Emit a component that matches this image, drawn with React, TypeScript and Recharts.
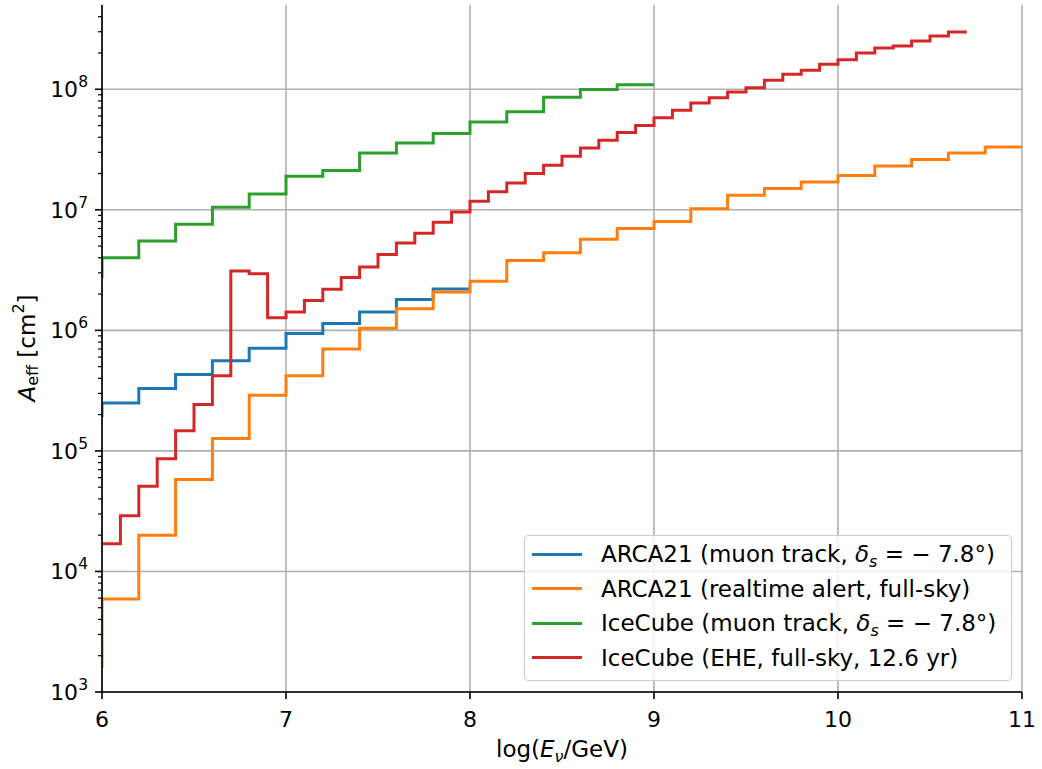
import React from 'react';
import { LineChart, Line, XAxis, YAxis, CartesianGrid, Legend } from 'recharts';

const FONT = "'DejaVu Sans', 'Liberation Sans', sans-serif";

// Bin upper edges (first entry = start of the curve); values are plotted as "pre" steps
const arcaMuonE = [6.0, 6.2, 6.4, 6.6, 6.8, 7.0, 7.2, 7.4, 7.6, 7.8, 8.0];
const arcaMuonA = [1.9e5, 2.5e5, 3.3e5, 4.3e5, 5.6e5, 7.1e5, 9.4e5, 1.14e6, 1.42e6, 1.8e6, 2.2e6];

const arcaAlertE = [6.0, 6.2, 6.4, 6.6, 6.8, 7.0, 7.2, 7.4, 7.6, 7.8, 8.0, 8.2, 8.4, 8.6, 8.8, 9.0, 9.2, 9.4, 9.6, 9.8, 10.0, 10.2, 10.4, 10.6, 10.8, 11.0];
const arcaAlertA = [1.6e3, 5.9e3, 2.0e4, 5.8e4, 1.27e5, 2.9e5, 4.2e5, 7.0e5, 1.04e6, 1.51e6, 2.08e6, 2.55e6, 3.8e6, 4.4e6, 5.7e6, 7.0e6, 7.98e6, 1.02e7, 1.32e7, 1.5e7, 1.7e7, 1.93e7, 2.31e7, 2.61e7, 2.96e7, 3.32e7];

const iceMuonE = [6.0, 6.2, 6.4, 6.6, 6.8, 7.0, 7.2, 7.4, 7.6, 7.8, 8.0, 8.2, 8.4, 8.6, 8.8, 9.0];
const iceMuonA = [2.7e6, 4.0e6, 5.5e6, 7.6e6, 1.05e7, 1.35e7, 1.9e7, 2.12e7, 2.96e7, 3.58e7, 4.3e7, 5.35e7, 6.5e7, 8.6e7, 9.96e7, 1.09e8];

const iceEheE = [6.0, 6.1, 6.2, 6.3, 6.4, 6.5, 6.6, 6.7, 6.8, 6.9, 7.0, 7.1, 7.2, 7.3, 7.4, 7.5, 7.6, 7.7, 7.8, 7.9, 8.0, 8.1, 8.2, 8.3, 8.4, 8.5, 8.6, 8.7, 8.8, 8.9, 9.0, 9.1, 9.2, 9.3, 9.4, 9.5, 9.6, 9.7, 9.8, 9.9, 10.0, 10.1, 10.2, 10.3, 10.4, 10.5, 10.6, 10.7];
const iceEheA = [1.7e4, 1.7e4, 2.9e4, 5.1e4, 8.6e4, 1.47e5, 2.43e5, 4.2e5, 3.1e6, 2.95e6, 1.27e6, 1.42e6, 1.77e6, 2.19e6, 2.74e6, 3.35e6, 4.25e6, 5.3e6, 6.4e6, 7.9e6, 9.6e6, 1.18e7, 1.41e7, 1.67e7, 2.0e7, 2.34e7, 2.78e7, 3.26e7, 3.78e7, 4.37e7, 5.0e7, 5.8e7, 6.7e7, 7.7e7, 8.5e7, 9.5e7, 1.03e8, 1.19e8, 1.33e8, 1.44e8, 1.61e8, 1.76e8, 2.0e8, 2.2e8, 2.29e8, 2.51e8, 2.77e8, 2.98e8];

const xTicks = [6, 7, 8, 9, 10, 11];
const yMajorTicks = [1e3, 1e4, 1e5, 1e6, 1e7, 1e8];
const yMinorTicks = [
  2e3, 3e3, 4e3, 5e3, 6e3, 7e3, 8e3, 9e3,
  2e4, 3e4, 4e4, 5e4, 6e4, 7e4, 8e4, 9e4,
  2e5, 3e5, 4e5, 5e5, 6e5, 7e5, 8e5, 9e5,
  2e6, 3e6, 4e6, 5e6, 6e6, 7e6, 8e6, 9e6,
  2e7, 3e7, 4e7, 5e7, 6e7, 7e7, 8e7, 9e7,
  2e8, 3e8, 4e8,
];
const yDomain = [1e3, 5e8];

const toPoints = (xs: number[], ys: number[]) => xs.map((x, i) => ({ x, y: ys[i] }));

const series = [
  { key: 'arcaMuon', color: '#1f77b4', data: toPoints(arcaMuonE, arcaMuonA) },
  { key: 'arcaAlert', color: '#ff7f0e', data: toPoints(arcaAlertE, arcaAlertA) },
  { key: 'iceMuon', color: '#2ca02c', data: toPoints(iceMuonE, iceMuonA) },
  { key: 'iceEhe', color: '#d62728', data: toPoints(iceEheE, iceEheA) },
];

const Delta = () => (
  <>
    <i>δ</i>
    <sub style={{ fontSize: 16, verticalAlign: '-5px', lineHeight: 0 }}><i>s</i></sub>
  </>
);

const legendLabels: React.ReactNode[] = [
  <>ARCA21 (muon track, <Delta /> = − 7.8°)</>,
  <>ARCA21 (realtime alert, full-sky)</>,
  <>IceCube (muon track, <Delta /> = − 7.8°)</>,
  <>IceCube (EHE, full-sky, 12.6 yr)</>,
];

const LegendBox = () => (
  <div
    style={{
      boxSizing: 'border-box',
      width: 488,
      height: 146,
      background: 'rgba(255,255,255,0.8)',
      border: '1px solid #cccccc',
      borderRadius: 4,
      fontFamily: FONT,
      fontSize: 23,
      color: '#000',
      paddingTop: 1,
    }}
  >
    {series.map((s, i) => (
      <div key={s.key} style={{ display: 'flex', alignItems: 'center', height: 34.5, whiteSpace: 'nowrap' }}>
        <div style={{ width: 50, height: 3, background: s.color, marginLeft: 7, marginRight: 19, flexShrink: 0 }} />
        <span style={{ lineHeight: '34px' }}>{legendLabels[i]}</span>
      </div>
    ))}
  </div>
);

const YTick = (props: any) => {
  const { x, y, payload } = props;
  const v = payload.value as number;
  const lg = Math.log10(v);
  const e = Math.round(lg);
  const major = Math.abs(lg - e) < 1e-6;
  return (
    <g>
      <line x1={x - (major ? 7 : 4)} x2={x} y1={y} y2={y} stroke="#000" strokeWidth={major ? 1.6 : 1.2} />
      {major && (
        <text x={x - 14} y={y + 8} textAnchor="end" fontFamily={FONT} fontSize={22} fill="#000">
          <tspan>10</tspan>
          <tspan dy={-10} fontSize={15.5}>{e}</tspan>
        </text>
      )}
    </g>
  );
};

const YLabel = () => (
  <text x={27} y={348} transform="rotate(-90, 27, 348)" textAnchor="middle" dominantBaseline="central" fontFamily={FONT} fontSize={23} fill="#000">
    <tspan fontStyle="italic">A</tspan>
    <tspan dy={5} fontSize={16}>eff</tspan>
    <tspan dy={-5}> [cm</tspan>
    <tspan dy={-9} fontSize={16}>2</tspan>
    <tspan dy={9}>]</tspan>
  </text>
);

const XLabel = () => (
  <text x={562} y={757} textAnchor="middle" fontFamily={FONT} fontSize={23} fill="#000">
    <tspan>log(</tspan>
    <tspan fontStyle="italic">E</tspan>
    <tspan dy={5} fontSize={16} fontStyle="italic">ν</tspan>
    <tspan dy={-5}>/GeV)</tspan>
  </text>
);

export default function App() {
  return (
    <div style={{ position: 'absolute', left: 0, top: 0, width: 1042, height: 769, background: '#fff' }}>
      <LineChart width={1042} height={769} margin={{ top: 5, right: 20, left: 0, bottom: 0 }}>
        <CartesianGrid
          stroke="#b0b0b0"
          strokeWidth={1.6}
          horizontalValues={yMajorTicks}
          verticalValues={xTicks}
        />
        <XAxis
          dataKey="x"
          type="number"
          domain={[6, 11]}
          ticks={xTicks}
          interval={0}
          allowDataOverflow
          height={77}
          tickSize={7}
          tickMargin={12}
          axisLine={{ stroke: '#000', strokeWidth: 1.6 }}
          tickLine={{ stroke: '#000', strokeWidth: 1.6 }}
          tick={{ fontFamily: FONT, fontSize: 22, fill: '#000' }}
          label={<XLabel />}
        />
        <XAxis
          xAxisId="top"
          orientation="top"
          type="number"
          domain={[6, 11]}
          height={0}
          tick={false}
          tickLine={false}
          axisLine={{ stroke: '#000', strokeWidth: 1.6 }}
        />
        <YAxis
          dataKey="y"
          scale="log"
          type="number"
          domain={yDomain}
          allowDataOverflow
          ticks={[...yMajorTicks, ...yMinorTicks]}
          interval={0}
          width={102}
          tickSize={0}
          tickMargin={0}
          tickLine={false}
          axisLine={{ stroke: '#000', strokeWidth: 1.6 }}
          tick={<YTick />}
          label={<YLabel />}
        />
        <YAxis
          yAxisId="right"
          orientation="right"
          scale="log"
          type="number"
          domain={yDomain}
          width={0}
          tick={false}
          tickLine={false}
          axisLine={{ stroke: '#000', strokeWidth: 1.6 }}
        />
        {series.map((s) => (
          <Line
            key={s.key}
            data={s.data}
            dataKey="y"
            type="stepBefore"
            stroke={s.color}
            strokeWidth={3}
            dot={false}
            activeDot={false}
            isAnimationActive={false}
            legendType="line"
          />
        ))}
        <Legend
          layout="vertical"
          align="center"
          verticalAlign="middle"
          content={<LegendBox />}
          wrapperStyle={{ left: 524, top: 535, width: 488, height: 146 }}
        />
      </LineChart>
    </div>
  );
}
